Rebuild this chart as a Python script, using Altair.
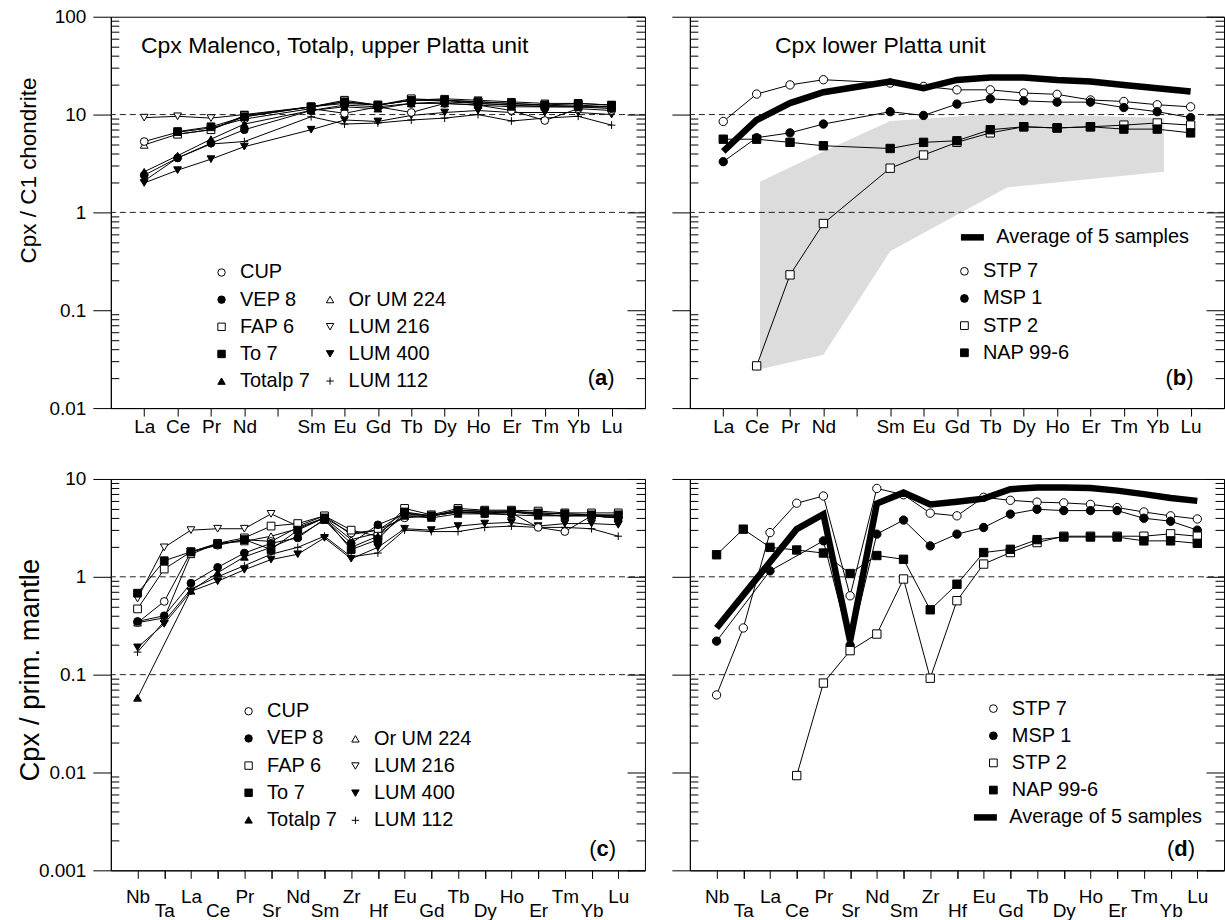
import altair as alt
import pandas as pd

FONT = "Liberation Sans"

# ---------------- categories ----------------
REE_TICKS = ["La", "Ce", "Pr", "Nd", "", "Sm", "Eu", "Gd", "Tb", "Dy", "Ho", "Er", "Tm", "Yb", "Lu"]
SPIDER_TICKS = ["Nb", "Ta", "La", "Ce", "Pr", "Sr", "Nd", "Sm", "Zr", "Hf", "Eu", "Gd", "Tb",
                "Dy", "Ho", "Er", "Tm", "Yb", "Lu"]

GROUP1 = ["CUP", "VEP 8", "FAP 6", "To 7", "Totalp 7"]
GROUP2 = ["Or UM 224", "LUM 216", "LUM 400", "LUM 112"]
PLATTA = ["STP 7", "MSP 1", "STP 2", "NAP 99-6"]
AVG_NAME = "Average of 5 samples"

# ---------------- panel (a): Cpx / C1 chondrite (La..Lu, Pm empty) ----------------
a_CUP = [5.3, 6.6, 7.3, 9.0, None, 11.5, 10.3, 12.0, 10.5, 13.0, 12.5, 11.0, 8.7, 11.5, 11.0]
a_VEP8 = [2.4, 3.6, 5.1, 7.0, None, 11.0, 12.5, 12.0, 13.0, 13.5, 13.0, 12.5, 12.0, 12.0, 11.5]
a_FAP6 = [None, 6.3, 7.0, 9.8, None, 12.0, 14.0, 12.5, 14.5, 14.0, 13.5, 13.0, 12.5, 12.5, 12.0]
a_To7 = [None, 6.7, 7.5, 9.5, None, 12.0, 13.5, 12.5, 14.0, 14.0, 13.5, 13.0, 12.5, 13.0, 12.5]
a_Totalp7 = [2.6, 3.8, 5.6, 8.0, None, 11.0, 12.0, 11.5, 13.0, 13.0, 12.5, 12.0, 12.0, 12.0, 12.0]
a_OrUM224 = [4.9, 6.3, 7.0, 9.5, None, 12.0, 13.0, 12.5, 14.0, 14.0, 13.0, 12.5, 12.5, 12.0, 12.0]
a_LUM216 = [9.3, 9.6, 9.2, 10.0, None, 12.0, 13.5, 12.5, 14.0, 14.5, 14.0, 13.5, 13.0, 13.0, 12.5]
a_LUM400 = [2.0, 2.7, 3.5, 4.7, None, 7.0, 8.8, 8.5, 9.8, 10.5, 11.0, 10.5, 10.5, 10.5, 10.0]
a_LUM112 = [2.1, 3.6, 5.0, 5.3, None, 9.5, 8.0, 8.2, 8.8, 9.2, 10.0, 8.6, 9.2, 9.6, 7.8]

# ---------------- panel (b) ----------------
b_STP7 = [8.5, 16.2, 20.1, 22.7, None, 21.0, 19.4, 17.9, 17.9, 16.6, 16.1, 14.1, 13.6, 12.6, 12.0]
b_MSP1 = [3.3, 5.8, 6.5, 8.0, None, 10.7, 9.8, 12.8, 14.5, 13.8, 13.4, 13.4, 11.8, 10.7, 9.3]
b_STP2 = [None, 0.027, 0.23, 0.77, None, 2.83, 3.86, 5.2, 6.5, 7.5, 7.3, 7.5, 7.8, 8.2, 7.8]
b_NAP = [5.6, 5.6, 5.2, 4.8, None, 4.5, 5.2, 5.4, 7.0, 7.5, 7.3, 7.5, 7.1, 7.1, 6.5]
b_AVG = [4.2, 8.8, 13.1, 16.9, None, 21.8, 18.6, 22.6, 23.9, 23.9, 22.6, 21.8, 20.1, 18.6, 17.2]
# grey field (range of samples) in (b)
b_field_x = [1.1, 3.0, 5.0, 8.5, 13.2]
b_field_lo = [0.025, 0.035, 0.40, 1.8, 2.6]
b_field_hi = [2.06, 4.2, 8.6, 10.3, 9.2]

# ---------------- panel (c): Cpx / primitive mantle ----------------
c_CUP = [0.34, 0.56, 1.8, 2.1, 2.4, 2.3, 3.2, 4.0, 2.8, 3.0, 4.0, 4.2, 4.6, 4.4, 4.5, 3.2, 2.9, 4.2, 4.0]
c_VEP8 = [0.35, 0.40, 0.86, 1.25, 1.75, 2.2, 2.5, 3.9, 2.2, 3.4, 4.4, 4.2, 4.6, 4.6, 4.6, 4.4, 4.2, 4.2, 4.0]
c_FAP6 = [0.47, 1.2, 1.8, 2.2, 2.5, 3.3, 3.5, 4.2, 3.0, 2.6, 5.0, 4.3, 5.0, 4.8, 4.8, 4.7, 4.5, 4.5, 4.5]
c_To7 = [0.68, 1.46, 1.8, 2.15, 2.4, 1.9, 3.0, 4.0, 1.9, 2.4, 4.6, 4.2, 4.8, 4.7, 4.7, 4.5, 4.4, 4.3, 4.3]
c_Totalp7 = [0.058, None, 0.72, 1.1, 1.6, 2.0, 2.6, 3.8, 2.0, 2.6, 4.2, 4.0, 4.4, 4.4, 4.3, 4.2, 4.2, 4.2, 4.0]
c_OrUM224 = [0.34, 0.38, 1.7, 2.2, 2.3, 2.6, 3.1, 4.0, 2.4, 2.8, 4.2, 4.2, 4.6, 4.5, 4.6, 4.3, 4.2, 4.3, 4.1]
c_LUM216 = [0.6, 2.0, 3.0, 3.1, 3.1, 4.4, 3.3, 4.2, 2.7, 3.0, 4.5, 4.2, 4.8, 4.6, 4.6, 4.5, 4.4, 4.3, 4.2]
c_LUM400 = [0.19, 0.33, 0.71, 0.9, 1.18, 1.5, 1.7, 2.5, 1.53, 2.0, 3.1, 3.0, 3.3, 3.5, 3.6, 3.3, 3.5, 3.5, 3.4]
c_LUM112 = [0.17, 0.35, 0.75, 1.0, 1.3, 1.7, 2.0, 2.6, 1.6, 1.75, 3.0, 2.9, 2.9, 3.2, 3.3, 3.2, 3.2, 3.1, 2.6]

# ---------------- panel (d) ----------------
d_STP7 = [0.062, 0.30, 2.83, 5.65, 6.7, 0.64, 8.0, 6.9, 4.47, 4.2, 6.5, 6.05, 5.8, 5.7, 5.5, 5.1, 4.6, 4.2, 3.9]
d_MSP1 = [0.22, None, 1.15, None, 2.33, 0.20, 2.73, 3.8, 2.07, 2.73, 3.19, 4.37, 4.9, 4.75, 4.75, 4.75, 3.97, 3.7, 3.0]
d_STP2 = [None, None, None, 0.0093, 0.082, 0.176, 0.26, 0.95, 0.092, 0.57, 1.35, 1.77, 2.24, 2.6, 2.6, 2.6, 2.6, 2.75, 2.6]
d_NAP = [1.68, 3.07, 2.0, 1.88, 1.75, 1.08, 1.65, 1.51, 0.46, 0.84, 1.77, 1.91, 2.4, 2.55, 2.55, 2.55, 2.33, 2.33, 2.2]
d_AVG = [0.30, None, None, 3.07, 4.37, 0.22, 5.6, 7.25, 5.5, 5.85, 6.3, 7.85, 8.2, 8.2, 8.1, 7.6, 7.0, 6.4, 5.97]

TOP_MAJOR = [0.01, 0.1, 1, 10, 100]
BOT_MAJOR = [0.001, 0.01, 0.1, 1, 10]
TOP_REF = [10, 1]
BOT_REF = [1, 0.1]

PLUS = "M-1,0L1,0M0,-1L0,1"
W, H = 535, 392
LEG_FS = 20


def to_long(names, values):
    rows = []
    for name, vals in zip(names, values):
        for i, v in enumerate(vals):
            if v is not None:
                rows.append({"series": name, "x": i, "v": v})
    return pd.DataFrame(rows)


def minor_ticks(majors):
    out = []
    for d in majors[:-1]:
        out += [k * d for k in range(2, 10)]
    return out


def js_array(items):
    return "[" + ",".join("'" + s + "'" for s in items) + "]"


def sym_legend(x, y, size=55, rowpad=7.2):
    return alt.Legend(title=None, orient="none", legendX=x, legendY=y, padding=0,
                      labelFontSize=LEG_FS, labelFont=FONT, labelColor="black", labelOffset=8.5,
                      labelLimit=0, symbolSize=size, symbolStrokeColor="black",
                      symbolStrokeWidth=1, rowPadding=rowpad)


def avg_legend(x, y):
    return alt.Legend(title=None, orient="none", legendX=x, legendY=y, padding=0,
                      labelFontSize=LEG_FS, labelFont=FONT, labelColor="black", labelOffset=9,
                      labelLimit=0, symbolType="stroke", symbolSize=529, symbolStrokeWidth=6.5,
                      symbolStrokeColor="black")


def build_panel(df, groups, ticks, stagger, majors, refs, ylabels, ytitle, ytitle_size,
                ytitle_x, ytitle_y, title_text, title_xy, letter, letter_xy, letter_w,
                avg_df=None, avg_leg=None, field_df=None, msize=60):
    n = len(ticks)
    xs = alt.Scale(domain=[-1, n], nice=False, zero=False)
    ys = alt.Scale(type="log", domain=[majors[0], majors[-1]], nice=False)
    layers = []

    if field_df is not None:
        layers.append(alt.Chart(field_df).mark_area(color="#dcdcdd", opacity=1).encode(
            x=alt.X("x:Q", scale=xs, axis=None),
            y=alt.Y("lo:Q", scale=ys, axis=None),
            y2="hi:Q"))

    ref_df = pd.DataFrame({"v": refs})
    layers.append(alt.Chart(ref_df).mark_rule(color="#222222", strokeDash=[6, 4], strokeWidth=1).encode(
        y=alt.Y("v:Q", scale=ys, axis=None)))

    arr = js_array(ticks)
    if stagger:
        lab = "datum.value % 2 == 0 ? " + arr + "[datum.value] : ''"
        lpad = 9
    else:
        lab = arr + "[datum.value]"
        lpad = 1

    xaxis = alt.Axis(orient="bottom", values=list(range(n)), tickSize=8, labelPadding=lpad,
                     labelFontSize=19, labelExpr=lab, labelOverlap=False, labelFlush=False,
                     labelBound=False, title=None, grid=False)
    yaxis_kw = dict(orient="left", values=majors, tickSize=18, labelPadding=7, labelFontSize=19,
                    format="~g", labels=ylabels, labelOverlap=False, grid=False)
    if ytitle:
        yaxis_kw.update(title=ytitle, titleFontSize=ytitle_size, titleFontWeight="normal",
                        titleX=ytitle_x, titleY=ytitle_y, titleFont=FONT)
    else:
        yaxis_kw.update(title=None)
    layers.append(alt.Chart(df).mark_line(color="black", strokeWidth=1).encode(
        x=alt.X("x:Q", scale=xs, axis=xaxis),
        y=alt.Y("v:Q", scale=ys, axis=alt.Axis(**yaxis_kw)),
        detail="series:N"))

    if stagger:
        odd = [i for i in range(n) if i % 2 == 1]
        layers.append(alt.Chart(ref_df).mark_point(opacity=0).encode(
            x=alt.X("v:Q", scale=xs, axis=alt.Axis(
                orient="bottom", values=odd, tickSize=8, labelPadding=lpad + 14, labelFontSize=19,
                labelExpr=arr + "[datum.value]", labelOverlap=False, labelFlush=False,
                labelBound=False, title=None, grid=False, domain=False)),
            y=alt.Y("v:Q", scale=ys, axis=None)))

    for names, shapes, fills, leg in groups:
        sub = df[df.series.isin(names)]
        layers.append(alt.Chart(sub).mark_point(filled=True, strokeWidth=1, size=msize,
                                                 opacity=1).encode(
            x=alt.X("x:Q", scale=xs, axis=None),
            y=alt.Y("v:Q", scale=ys, axis=None),
            shape=alt.Shape("series:N", scale=alt.Scale(domain=names, range=shapes), legend=leg),
            fill=alt.Fill("series:N", scale=alt.Scale(domain=names, range=fills), legend=leg),
            stroke=alt.Stroke("series:N", scale=alt.Scale(domain=names, range=["black"] * len(names)),
                              legend=leg)))

    if avg_df is not None:
        layers.append(alt.Chart(avg_df).mark_line(strokeWidth=6.5).encode(
            x=alt.X("x:Q", scale=xs, axis=None),
            y=alt.Y("v:Q", scale=ys, axis=None),
            stroke=alt.Stroke("series:N", scale=alt.Scale(domain=[AVG_NAME], range=["black"]),
                              legend=avg_leg)))

    # inner tick marks: left minor, right minor, right major
    mins = minor_ticks(majors)
    tick_axes = [
        alt.Axis(orient="left", offset=-8, tickSize=8, values=mins),
        alt.Axis(orient="right", offset=-9, tickSize=9, values=mins),
        alt.Axis(orient="right", offset=-18, tickSize=18, values=majors),
    ]
    for ax in tick_axes:
        ax.labels = False
        ax.domain = False
        ax.grid = False
        ax.title = None
        layers.append(alt.Chart(ref_df).mark_point(opacity=0).encode(
            x=alt.X("v:Q", scale=xs, axis=None),
            y=alt.Y("v:Q", scale=ys, axis=ax)))

    one = pd.DataFrame({"k": [0]})
    if title_text:
        layers.append(alt.Chart(one).mark_text(text=title_text, fontSize=23, align="left",
                                               baseline="alphabetic").encode(
            x=alt.value(title_xy[0]), y=alt.value(title_xy[1])))
    lx, ly = letter_xy
    pw = 7.3
    layers.append(alt.Chart(one).mark_text(text=")", fontSize=22, align="right", baseline="middle").encode(
        x=alt.value(lx), y=alt.value(ly)))
    layers.append(alt.Chart(one).mark_text(text=letter, fontSize=22, fontWeight="bold", align="right",
                                           baseline="middle").encode(
        x=alt.value(lx - pw), y=alt.value(ly)))
    layers.append(alt.Chart(one).mark_text(text="(", fontSize=22, align="right", baseline="middle").encode(
        x=alt.value(lx - pw - letter_w), y=alt.value(ly)))

    return alt.layer(*layers).resolve_scale(
        x="independent", y="independent", shape="independent", fill="independent",
        stroke="independent"
    ).properties(width=W, height=H)


G_NAMES = GROUP1 + GROUP2
df_a = to_long(G_NAMES, [a_CUP, a_VEP8, a_FAP6, a_To7, a_Totalp7, a_OrUM224, a_LUM216, a_LUM400, a_LUM112])
df_c = to_long(G_NAMES, [c_CUP, c_VEP8, c_FAP6, c_To7, c_Totalp7, c_OrUM224, c_LUM216, c_LUM400, c_LUM112])
df_b = to_long(PLATTA, [b_STP7, b_MSP1, b_STP2, b_NAP])
df_d = to_long(PLATTA, [d_STP7, d_MSP1, d_STP2, d_NAP])
avg_b = to_long([AVG_NAME], [b_AVG])
avg_d = to_long([AVG_NAME], [d_AVG])
field_b = pd.DataFrame({"x": b_field_x, "lo": b_field_lo, "hi": b_field_hi})

S1 = ["circle", "circle", "square", "square", "triangle-up"]
F1 = ["white", "black", "white", "black", "black"]
S2 = ["triangle-up", "triangle-down", "triangle-down", PLUS]
F2 = ["white", "white", "black", "white"]
SP = ["circle", "circle", "square", "square"]
FP = ["white", "black", "white", "black"]

panel_a = build_panel(
    df_a,
    [(GROUP2, S2, F2, sym_legend(209.6, 273.3)), (GROUP1, S1, F1, sym_legend(100.9, 246.2))],
    REE_TICKS, False, TOP_MAJOR, TOP_REF, True, "Cpx / C1 chondrite", 22.5, -70, 153.5,
    "Cpx Malenco, Totalp, upper Platta unit", (30.2, 36.7), "a", (504.5, 362), 12.2)

panel_b = build_panel(
    df_b, [(PLATTA, SP, FP, sym_legend(265, 245, size=60))],
    REE_TICKS, False, TOP_MAJOR, TOP_REF, False, None, 0, 0, 0,
    "Cpx lower Platta unit", (85.3, 36.7), "b", (504.5, 362), 13.4,
    avg_df=avg_b, avg_leg=avg_legend(268, 206), field_df=field_b, msize=70)

panel_c = build_panel(
    df_c,
    [(GROUP2, S2, F2, sym_legend(235, 250.3)), (GROUP1, S1, F1, sym_legend(128, 222.7))],
    SPIDER_TICKS, True, BOT_MAJOR, BOT_REF, True, "Cpx / prim. mantle", 27.5, -66, 191,
    "", (0, 0), "c", (506, 370.3), 12.2)

panel_d = build_panel(
    df_d, [(PLATTA, SP, FP, sym_legend(294, 220, size=60))],
    SPIDER_TICKS, True, BOT_MAJOR, BOT_REF, False, None, 0, 0, 0,
    "", (0, 0), "d", (506, 370.3), 13.4,
    avg_df=avg_d, avg_leg=avg_legend(281, 324), msize=70)

chart = alt.concat(panel_a, panel_b, panel_c, panel_d, columns=2,
                   spacing={"row": 71, "column": 45}, bounds="flush").resolve_scale(
    shape="independent", fill="independent", stroke="independent"
).properties(
    padding={"left": 16, "top": 6, "right": 0, "bottom": 0}, background="white"
).configure_view(stroke="black", strokeWidth=1).configure_axis(
    labelFont=FONT, titleFont=FONT, labelColor="black", tickColor="black", domainColor="black",
    titleColor="black", tickWidth=1, domainWidth=1
).configure_text(font=FONT, color="black")

chart.save("out.html", embed_options={"renderer": "svg", "actions": False})
